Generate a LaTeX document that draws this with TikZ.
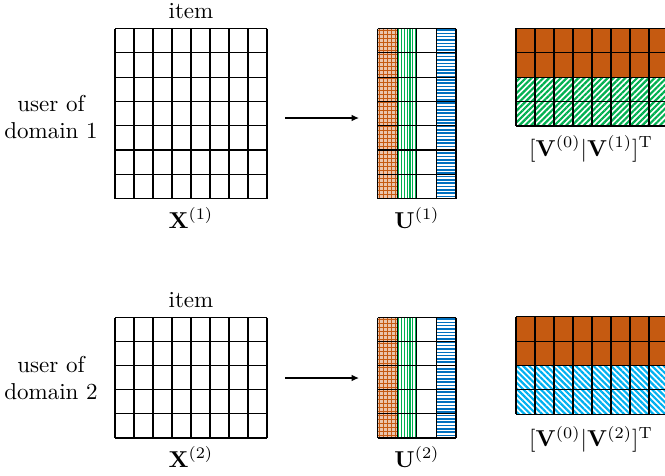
\documentclass[tikz,border=0pt]{standalone}
\usetikzlibrary{patterns.meta,arrows.meta,fit}

\definecolor{vorange}{RGB}{197,90,17}
\definecolor{vgreen}{RGB}{0,176,80}
\definecolor{vblue}{RGB}{0,112,192}
\definecolor{vcyan}{RGB}{0,176,240}

% draws an nc x nr cell grid with top-left corner (#1,#2), cell size #5 x #6
\newcommand\cellgrid[6]{%
  \foreach \i in {0,...,#3}{\draw[gridline] ({#1+\i*#5},#2) -- ++(0,{#4*#6});}
  \foreach \j in {0,...,#4}{\draw[gridline] (#1,{#2+\j*#6}) -- ++({#3*#5},0);}
}
% vertical stripes: x0, y0, width, height, spacing, first offset, style
\newcommand\vstripes[7]{%
  \begin{scope}
    \clip (#1,#2) rectangle ++(#3,#4);
    \pgfmathtruncatemacro\nst{#3/#5}
    \foreach \k in {0,...,\nst}{\draw[#7] ({#1+#6+\k*#5},#2) -- ++(0,#4);}
  \end{scope}}
% horizontal stripes: x0, y0, width, height, spacing, first offset, style
\newcommand\hstripes[7]{%
  \begin{scope}
    \clip (#1,#2) rectangle ++(#3,#4);
    \pgfmathtruncatemacro\nst{#4/#5}
    \foreach \k in {0,...,\nst}{\draw[#7] (#1,{#2+#6+\k*#5}) -- ++(#3,0);}
  \end{scope}}
% the coloured columns of a U matrix: x0, y0, height
\newcommand\ucolumns[3]{%
  \fill[otint] (#1,#2) rectangle ++(19.6,#3);
  \vstripes{#1}{#2}{19.6}{#3}{4}{1.8}{ostripe}
  \hstripes{#1}{#2}{19.6}{#3}{4}{2}{ostripe}
  \vstripes{#1+19.6}{#2}{19.6}{#3}{2.8}{1.5}{gstripe}
  \hstripes{#1+58.7}{#2}{19.6}{#3}{3.33}{1.5}{bstripe}}

\begin{document}
\begin{tikzpicture}[x=0.4348pt,y=-0.4348pt,
  gridline/.style={line width=0.5pt,black},
  box/.style={inner sep=0pt,outer sep=0pt},
  lbl/.style={inner sep=0pt,align=center},
  flow/.style={line width=0.6pt,-{Latex[length=3.2pt,width=2.9pt]}},
  otint/.style={fill=vorange!35},
  ostripe/.style={vorange,line width=0.62pt},
  gstripe/.style={vgreen,line width=0.6pt},
  bstripe/.style={vblue,line width=0.7pt},
  vgreenfill/.style={pattern={Lines[angle=45,distance=1.8pt,line width=0.95pt]},pattern color=vgreen},
  vcyanfill/.style={pattern={Lines[angle=-45,distance=1.8pt,line width=0.95pt]},pattern color=vcyan},
]
\useasboundingbox (0,0) rectangle (665,475);

% ---------------- domain 1 ----------------
\node[box,fit={(115,28.5) (267,198.5)}] (X1) {};
\cellgrid{115}{28.5}{8}{7}{19}{24.2857}
\node[lbl] (item1) at (191,11) {item};
\node[lbl] (user1) at (51,117) {user of\\domain 1};
\node[lbl] (X1l) at (191,218) {$\mathbf{X}^{(1)}$};

% U^(1): orange grid, green verticals, blank, blue horizontals
\node[box,fit={(377.7,28.5) (456,198.5)}] (U1) {};
\ucolumns{377.7}{28.5}{170}
\cellgrid{377.7}{28.5}{4}{7}{19.575}{24.2857}
\node[lbl] (U1l) at (417,218) {$\mathbf{U}^{(1)}$};

% [V^(0)|V^(1)]^T
\node[box,fit={(516,28.3) (668,126)}] (V1) {};
\fill[vorange] (516,28.3) rectangle (668,77.15);
\fill[vgreenfill] (516,77.15) rectangle (668,126);
\cellgrid{516}{28.3}{8}{4}{19}{24.425}
\node[lbl] (V1l) at (591,149) {$[\mathbf{V}^{(0)}|\mathbf{V}^{(1)}]^{\mathrm{T}}$};

\coordinate (a1s) at (285,118);
\coordinate (a1e) at (359,118);
\draw[flow] (a1s) -- (a1e);

% ---------------- domain 2 ----------------
\node[box,fit={(115,317.5) (267,438)}] (X2) {};
\cellgrid{115}{317.5}{8}{5}{19}{24.1}
\node[lbl] (item2) at (191,300) {item};
\node[lbl] (user2) at (51,378) {user of\\domain 2};
\node[lbl] (X2l) at (191,457) {$\mathbf{X}^{(2)}$};

\node[box,fit={(377.7,317.5) (456,438)}] (U2) {};
\ucolumns{377.7}{317.5}{120.5}
\cellgrid{377.7}{317.5}{4}{5}{19.575}{24.1}
\node[lbl] (U2l) at (417,457) {$\mathbf{U}^{(2)}$};

\node[box,fit={(516,316.7) (668,414.3)}] (V2) {};
\fill[vorange] (516,316.7) rectangle (668,365.5);
\fill[vcyanfill] (516,365.5) rectangle (668,414.3);
\cellgrid{516}{316.7}{8}{4}{19}{24.4}
\node[lbl] (V2l) at (591,439) {$[\mathbf{V}^{(0)}|\mathbf{V}^{(2)}]^{\mathrm{T}}$};

\coordinate (a2s) at (285,378);
\coordinate (a2e) at (359,378);
\draw[flow] (a2s) -- (a2e);
\end{tikzpicture}
\end{document}
